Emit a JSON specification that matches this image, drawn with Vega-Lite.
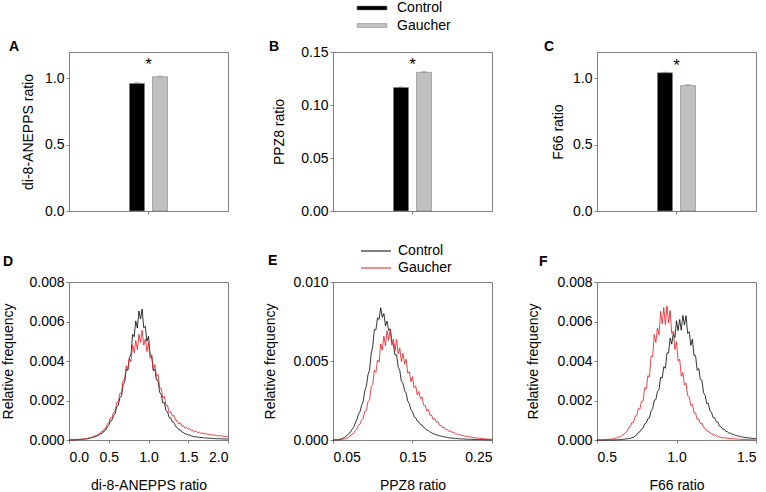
{
"$schema":"https://vega.github.io/schema/vega-lite/v6.json",
"padding":0,
"background":"white",
"datasets":{
"dD":[
{"g":"Control","x":0.00,"y":0},{"g":"Control","x":0.02,"y":0.00001},{"g":"Control","x":0.04,"y":0},{"g":"Control","x":0.06,"y":0.00002},{"g":"Control","x":0.08,"y":0.00001},{"g":"Control","x":0.10,"y":0.00002},{"g":"Control","x":0.12,"y":0.00003},{"g":"Control","x":0.14,"y":0.00002},{"g":"Control","x":0.16,"y":0.00004},{"g":"Control","x":0.18,"y":0.00003},
{"g":"Control","x":0.20,"y":0.00006},{"g":"Control","x":0.22,"y":0.00005},{"g":"Control","x":0.24,"y":0.00008},{"g":"Control","x":0.26,"y":0.00008},{"g":"Control","x":0.28,"y":0.00012},{"g":"Control","x":0.30,"y":0.00012},{"g":"Control","x":0.32,"y":0.00017},{"g":"Control","x":0.34,"y":0.00016},{"g":"Control","x":0.36,"y":0.00024},{"g":"Control","x":0.38,"y":0.00024},
{"g":"Control","x":0.40,"y":0.00033},{"g":"Control","x":0.42,"y":0.00034},{"g":"Control","x":0.44,"y":0.00045},{"g":"Control","x":0.46,"y":0.00049},{"g":"Control","x":0.48,"y":0.00066},{"g":"Control","x":0.50,"y":0.00073},{"g":"Control","x":0.52,"y":0.00096},{"g":"Control","x":0.54,"y":0.00100},{"g":"Control","x":0.56,"y":0.00123},{"g":"Control","x":0.58,"y":0.00132},
{"g":"Control","x":0.60,"y":0.00170},{"g":"Control","x":0.62,"y":0.00175},{"g":"Control","x":0.64,"y":0.00216},{"g":"Control","x":0.66,"y":0.00221},{"g":"Control","x":0.68,"y":0.00279},{"g":"Control","x":0.70,"y":0.00292},{"g":"Control","x":0.72,"y":0.00359},{"g":"Control","x":0.74,"y":0.00353},{"g":"Control","x":0.76,"y":0.00418},{"g":"Control","x":0.78,"y":0.00432},
{"g":"Control","x":0.80,"y":0.00535},{"g":"Control","x":0.82,"y":0.00523},{"g":"Control","x":0.84,"y":0.00603},{"g":"Control","x":0.86,"y":0.00567},{"g":"Control","x":0.88,"y":0.00653},{"g":"Control","x":0.90,"y":0.00613},{"g":"Control","x":0.92,"y":0.00663},{"g":"Control","x":0.94,"y":0.00568},{"g":"Control","x":0.96,"y":0.00576},{"g":"Control","x":0.98,"y":0.00500},
{"g":"Control","x":1.00,"y":0.00525},{"g":"Control","x":1.02,"y":0.00432},{"g":"Control","x":1.04,"y":0.00427},{"g":"Control","x":1.06,"y":0.00351},{"g":"Control","x":1.08,"y":0.00359},{"g":"Control","x":1.10,"y":0.00304},{"g":"Control","x":1.12,"y":0.00302},{"g":"Control","x":1.14,"y":0.00242},{"g":"Control","x":1.16,"y":0.00230},{"g":"Control","x":1.18,"y":0.00188},
{"g":"Control","x":1.20,"y":0.00189},{"g":"Control","x":1.22,"y":0.00149},{"g":"Control","x":1.24,"y":0.00143},{"g":"Control","x":1.26,"y":0.00113},{"g":"Control","x":1.28,"y":0.00112},{"g":"Control","x":1.30,"y":0.00091},{"g":"Control","x":1.32,"y":0.00089},{"g":"Control","x":1.34,"y":0.00069},{"g":"Control","x":1.36,"y":0.00064},{"g":"Control","x":1.38,"y":0.00052},
{"g":"Control","x":1.40,"y":0.00051},{"g":"Control","x":1.42,"y":0.00040},{"g":"Control","x":1.44,"y":0.00038},{"g":"Control","x":1.46,"y":0.00031},{"g":"Control","x":1.48,"y":0.00030},{"g":"Control","x":1.50,"y":0.00025},{"g":"Control","x":1.52,"y":0.00026},{"g":"Control","x":1.54,"y":0.00020},{"g":"Control","x":1.56,"y":0.00019},{"g":"Control","x":1.58,"y":0.00016},
{"g":"Control","x":1.60,"y":0.00017},{"g":"Control","x":1.62,"y":0.00014},{"g":"Control","x":1.64,"y":0.00014},{"g":"Control","x":1.66,"y":0.00012},{"g":"Control","x":1.68,"y":0.00013},{"g":"Control","x":1.70,"y":0.00010},{"g":"Control","x":1.72,"y":0.00011},{"g":"Control","x":1.74,"y":0.00009},{"g":"Control","x":1.76,"y":0.00009},{"g":"Control","x":1.78,"y":0.00008},
{"g":"Control","x":1.80,"y":0.00009},{"g":"Control","x":1.82,"y":0.00007},{"g":"Control","x":1.84,"y":0.00007},{"g":"Control","x":1.86,"y":0.00006},{"g":"Control","x":1.88,"y":0.00007},{"g":"Control","x":1.90,"y":0.00006},{"g":"Control","x":1.92,"y":0.00006},{"g":"Control","x":1.94,"y":0.00005},{"g":"Control","x":1.96,"y":0.00005},{"g":"Control","x":1.98,"y":0.00005},{"g":"Control","x":2.00,"y":0.00004},
{"g":"Gaucher","x":0.00,"y":0},{"g":"Gaucher","x":0.02,"y":0.00001},{"g":"Gaucher","x":0.04,"y":0.00001},{"g":"Gaucher","x":0.06,"y":0.00001},{"g":"Gaucher","x":0.08,"y":0.00002},{"g":"Gaucher","x":0.10,"y":0.00002},{"g":"Gaucher","x":0.12,"y":0.00003},{"g":"Gaucher","x":0.14,"y":0.00003},{"g":"Gaucher","x":0.16,"y":0.00005},{"g":"Gaucher","x":0.18,"y":0.00004},
{"g":"Gaucher","x":0.20,"y":0.00007},{"g":"Gaucher","x":0.22,"y":0.00006},{"g":"Gaucher","x":0.24,"y":0.00010},{"g":"Gaucher","x":0.26,"y":0.00010},{"g":"Gaucher","x":0.28,"y":0.00014},{"g":"Gaucher","x":0.30,"y":0.00015},{"g":"Gaucher","x":0.32,"y":0.00021},{"g":"Gaucher","x":0.34,"y":0.00021},{"g":"Gaucher","x":0.36,"y":0.00028},{"g":"Gaucher","x":0.38,"y":0.00030},
{"g":"Gaucher","x":0.40,"y":0.00041},{"g":"Gaucher","x":0.42,"y":0.00042},{"g":"Gaucher","x":0.44,"y":0.00055},{"g":"Gaucher","x":0.46,"y":0.00058},{"g":"Gaucher","x":0.48,"y":0.00080},{"g":"Gaucher","x":0.50,"y":0.00085},{"g":"Gaucher","x":0.52,"y":0.00111},{"g":"Gaucher","x":0.54,"y":0.00112},{"g":"Gaucher","x":0.56,"y":0.00140},{"g":"Gaucher","x":0.58,"y":0.00145},
{"g":"Gaucher","x":0.60,"y":0.00190},{"g":"Gaucher","x":0.62,"y":0.00190},{"g":"Gaucher","x":0.64,"y":0.00237},{"g":"Gaucher","x":0.66,"y":0.00236},{"g":"Gaucher","x":0.68,"y":0.00302},{"g":"Gaucher","x":0.70,"y":0.00306},{"g":"Gaucher","x":0.72,"y":0.00376},{"g":"Gaucher","x":0.74,"y":0.00356},{"g":"Gaucher","x":0.76,"y":0.00414},{"g":"Gaucher","x":0.78,"y":0.00398},
{"g":"Gaucher","x":0.80,"y":0.00482},{"g":"Gaucher","x":0.82,"y":0.00442},{"g":"Gaucher","x":0.84,"y":0.00504},{"g":"Gaucher","x":0.86,"y":0.00457},{"g":"Gaucher","x":0.88,"y":0.00535},{"g":"Gaucher","x":0.90,"y":0.00494},{"g":"Gaucher","x":0.92,"y":0.00556},{"g":"Gaucher","x":0.94,"y":0.00480},{"g":"Gaucher","x":0.96,"y":0.00511},{"g":"Gaucher","x":0.98,"y":0.00448},
{"g":"Gaucher","x":1.00,"y":0.00494},{"g":"Gaucher","x":1.02,"y":0.00414},{"g":"Gaucher","x":1.04,"y":0.00432},{"g":"Gaucher","x":1.06,"y":0.00357},{"g":"Gaucher","x":1.08,"y":0.00382},{"g":"Gaucher","x":1.10,"y":0.00322},{"g":"Gaucher","x":1.12,"y":0.00332},{"g":"Gaucher","x":1.14,"y":0.00264},{"g":"Gaucher","x":1.16,"y":0.00261},{"g":"Gaucher","x":1.18,"y":0.00213},
{"g":"Gaucher","x":1.20,"y":0.00221},{"g":"Gaucher","x":1.22,"y":0.00176},{"g":"Gaucher","x":1.24,"y":0.00175},{"g":"Gaucher","x":1.26,"y":0.00139},{"g":"Gaucher","x":1.28,"y":0.00144},{"g":"Gaucher","x":1.30,"y":0.00121},{"g":"Gaucher","x":1.32,"y":0.00125},{"g":"Gaucher","x":1.34,"y":0.00100},{"g":"Gaucher","x":1.36,"y":0.00099},{"g":"Gaucher","x":1.38,"y":0.00082},
{"g":"Gaucher","x":1.40,"y":0.00087},{"g":"Gaucher","x":1.42,"y":0.00070},{"g":"Gaucher","x":1.44,"y":0.00072},{"g":"Gaucher","x":1.46,"y":0.00059},{"g":"Gaucher","x":1.48,"y":0.00064},{"g":"Gaucher","x":1.50,"y":0.00054},{"g":"Gaucher","x":1.52,"y":0.00058},{"g":"Gaucher","x":1.54,"y":0.00047},{"g":"Gaucher","x":1.56,"y":0.00048},{"g":"Gaucher","x":1.58,"y":0.00041},
{"g":"Gaucher","x":1.60,"y":0.00045},{"g":"Gaucher","x":1.62,"y":0.00038},{"g":"Gaucher","x":1.64,"y":0.00040},{"g":"Gaucher","x":1.66,"y":0.00033},{"g":"Gaucher","x":1.68,"y":0.00036},{"g":"Gaucher","x":1.70,"y":0.00031},{"g":"Gaucher","x":1.72,"y":0.00034},{"g":"Gaucher","x":1.74,"y":0.00028},{"g":"Gaucher","x":1.76,"y":0.00029},{"g":"Gaucher","x":1.78,"y":0.00025},
{"g":"Gaucher","x":1.80,"y":0.00028},{"g":"Gaucher","x":1.82,"y":0.00024},{"g":"Gaucher","x":1.84,"y":0.00025},{"g":"Gaucher","x":1.86,"y":0.00021},{"g":"Gaucher","x":1.88,"y":0.00023},{"g":"Gaucher","x":1.90,"y":0.00020},{"g":"Gaucher","x":1.92,"y":0.00022},{"g":"Gaucher","x":1.94,"y":0.00018},{"g":"Gaucher","x":1.96,"y":0.00019},{"g":"Gaucher","x":1.98,"y":0.00016},{"g":"Gaucher","x":2.00,"y":0.00017}
],
"dE":[
{"g":"Control","x":0.050,"y":0},{"g":"Control","x":0.052,"y":0.00001},{"g":"Control","x":0.054,"y":0.00001},{"g":"Control","x":0.056,"y":0.00002},{"g":"Control","x":0.058,"y":0.00004},{"g":"Control","x":0.060,"y":0.00006},{"g":"Control","x":0.062,"y":0.00011},{"g":"Control","x":0.064,"y":0.00015},{"g":"Control","x":0.066,"y":0.00023},{"g":"Control","x":0.068,"y":0.00029},
{"g":"Control","x":0.070,"y":0.00042},{"g":"Control","x":0.072,"y":0.00050},{"g":"Control","x":0.074,"y":0.00067},{"g":"Control","x":0.076,"y":0.00080},{"g":"Control","x":0.078,"y":0.00108},{"g":"Control","x":0.080,"y":0.00127},{"g":"Control","x":0.082,"y":0.00163},{"g":"Control","x":0.084,"y":0.00179},{"g":"Control","x":0.086,"y":0.00220},{"g":"Control","x":0.088,"y":0.00245},
{"g":"Control","x":0.090,"y":0.00312},{"g":"Control","x":0.092,"y":0.00340},{"g":"Control","x":0.094,"y":0.00413},{"g":"Control","x":0.096,"y":0.00442},{"g":"Control","x":0.098,"y":0.00546},{"g":"Control","x":0.100,"y":0.00594},{"g":"Control","x":0.102,"y":0.00698},{"g":"Control","x":0.104,"y":0.00698},{"g":"Control","x":0.106,"y":0.00773},{"g":"Control","x":0.108,"y":0.00763},
{"g":"Control","x":0.110,"y":0.00837},{"g":"Control","x":0.112,"y":0.00776},{"g":"Control","x":0.114,"y":0.00801},{"g":"Control","x":0.116,"y":0.00722},{"g":"Control","x":0.118,"y":0.00752},{"g":"Control","x":0.120,"y":0.00693},{"g":"Control","x":0.122,"y":0.00704},{"g":"Control","x":0.124,"y":0.00621},{"g":"Control","x":0.126,"y":0.00606},{"g":"Control","x":0.128,"y":0.00538},
{"g":"Control","x":0.130,"y":0.00539},{"g":"Control","x":0.132,"y":0.00461},{"g":"Control","x":0.134,"y":0.00441},{"g":"Control","x":0.136,"y":0.00371},{"g":"Control","x":0.138,"y":0.00361},{"g":"Control","x":0.140,"y":0.00312},{"g":"Control","x":0.142,"y":0.00297},{"g":"Control","x":0.144,"y":0.00247},{"g":"Control","x":0.146,"y":0.00230},{"g":"Control","x":0.148,"y":0.00192},
{"g":"Control","x":0.150,"y":0.00179},{"g":"Control","x":0.152,"y":0.00147},{"g":"Control","x":0.154,"y":0.00141},{"g":"Control","x":0.156,"y":0.00119},{"g":"Control","x":0.158,"y":0.00115},{"g":"Control","x":0.160,"y":0.00099},{"g":"Control","x":0.162,"y":0.00095},{"g":"Control","x":0.164,"y":0.00079},{"g":"Control","x":0.166,"y":0.00074},{"g":"Control","x":0.168,"y":0.00062},
{"g":"Control","x":0.170,"y":0.00060},{"g":"Control","x":0.172,"y":0.00050},{"g":"Control","x":0.174,"y":0.00047},{"g":"Control","x":0.176,"y":0.00039},{"g":"Control","x":0.178,"y":0.00038},{"g":"Control","x":0.180,"y":0.00032},{"g":"Control","x":0.182,"y":0.00031},{"g":"Control","x":0.184,"y":0.00026},{"g":"Control","x":0.186,"y":0.00025},{"g":"Control","x":0.188,"y":0.00021},
{"g":"Control","x":0.190,"y":0.00021},{"g":"Control","x":0.192,"y":0.00017},{"g":"Control","x":0.194,"y":0.00017},{"g":"Control","x":0.196,"y":0.00013},{"g":"Control","x":0.198,"y":0.00014},{"g":"Control","x":0.200,"y":0.00011},{"g":"Control","x":0.202,"y":0.00012},{"g":"Control","x":0.204,"y":0.00009},{"g":"Control","x":0.206,"y":0.00010},{"g":"Control","x":0.208,"y":0.00007},
{"g":"Control","x":0.210,"y":0.00008},{"g":"Control","x":0.212,"y":0.00006},{"g":"Control","x":0.214,"y":0.00007},{"g":"Control","x":0.216,"y":0.00005},{"g":"Control","x":0.218,"y":0.00006},{"g":"Control","x":0.220,"y":0.00004},{"g":"Control","x":0.222,"y":0.00005},{"g":"Control","x":0.224,"y":0.00004},{"g":"Control","x":0.226,"y":0.00004},{"g":"Control","x":0.228,"y":0.00003},
{"g":"Control","x":0.230,"y":0.00004},{"g":"Control","x":0.232,"y":0.00002},{"g":"Control","x":0.234,"y":0.00003},{"g":"Control","x":0.236,"y":0.00002},{"g":"Control","x":0.238,"y":0.00003},{"g":"Control","x":0.240,"y":0.00002},{"g":"Control","x":0.242,"y":0.00002},{"g":"Control","x":0.244,"y":0.00001},{"g":"Control","x":0.246,"y":0.00002},{"g":"Control","x":0.248,"y":0.00001},{"g":"Control","x":0.250,"y":0.00001},
{"g":"Gaucher","x":0.050,"y":0},{"g":"Gaucher","x":0.052,"y":0.00001},{"g":"Gaucher","x":0.054,"y":0.00001},{"g":"Gaucher","x":0.056,"y":0.00001},{"g":"Gaucher","x":0.058,"y":0.00002},{"g":"Gaucher","x":0.060,"y":0.00003},{"g":"Gaucher","x":0.062,"y":0.00005},{"g":"Gaucher","x":0.064,"y":0.00006},{"g":"Gaucher","x":0.066,"y":0.00010},{"g":"Gaucher","x":0.068,"y":0.00012},
{"g":"Gaucher","x":0.070,"y":0.00020},{"g":"Gaucher","x":0.072,"y":0.00025},{"g":"Gaucher","x":0.074,"y":0.00037},{"g":"Gaucher","x":0.076,"y":0.00042},{"g":"Gaucher","x":0.078,"y":0.00060},{"g":"Gaucher","x":0.080,"y":0.00068},{"g":"Gaucher","x":0.082,"y":0.00094},{"g":"Gaucher","x":0.084,"y":0.00099},{"g":"Gaucher","x":0.086,"y":0.00128},{"g":"Gaucher","x":0.088,"y":0.00135},
{"g":"Gaucher","x":0.090,"y":0.00182},{"g":"Gaucher","x":0.092,"y":0.00188},{"g":"Gaucher","x":0.094,"y":0.00244},{"g":"Gaucher","x":0.096,"y":0.00253},{"g":"Gaucher","x":0.098,"y":0.00337},{"g":"Gaucher","x":0.100,"y":0.00351},{"g":"Gaucher","x":0.102,"y":0.00441},{"g":"Gaucher","x":0.104,"y":0.00428},{"g":"Gaucher","x":0.106,"y":0.00507},{"g":"Gaucher","x":0.108,"y":0.00493},
{"g":"Gaucher","x":0.110,"y":0.00608},{"g":"Gaucher","x":0.112,"y":0.00569},{"g":"Gaucher","x":0.114,"y":0.00657},{"g":"Gaucher","x":0.116,"y":0.00596},{"g":"Gaucher","x":0.118,"y":0.00691},{"g":"Gaucher","x":0.120,"y":0.00631},{"g":"Gaucher","x":0.122,"y":0.00700},{"g":"Gaucher","x":0.124,"y":0.00600},{"g":"Gaucher","x":0.126,"y":0.00639},{"g":"Gaucher","x":0.128,"y":0.00565},
{"g":"Gaucher","x":0.130,"y":0.00637},{"g":"Gaucher","x":0.132,"y":0.00545},{"g":"Gaucher","x":0.134,"y":0.00584},{"g":"Gaucher","x":0.136,"y":0.00497},{"g":"Gaucher","x":0.138,"y":0.00549},{"g":"Gaucher","x":0.140,"y":0.00480},{"g":"Gaucher","x":0.142,"y":0.00512},{"g":"Gaucher","x":0.144,"y":0.00423},{"g":"Gaucher","x":0.146,"y":0.00433},{"g":"Gaucher","x":0.148,"y":0.00369},
{"g":"Gaucher","x":0.150,"y":0.00401},{"g":"Gaucher","x":0.152,"y":0.00331},{"g":"Gaucher","x":0.154,"y":0.00343},{"g":"Gaucher","x":0.156,"y":0.00285},{"g":"Gaucher","x":0.158,"y":0.00307},{"g":"Gaucher","x":0.160,"y":0.00262},{"g":"Gaucher","x":0.162,"y":0.00273},{"g":"Gaucher","x":0.164,"y":0.00220},{"g":"Gaucher","x":0.166,"y":0.00220},{"g":"Gaucher","x":0.168,"y":0.00183},
{"g":"Gaucher","x":0.170,"y":0.00194},{"g":"Gaucher","x":0.172,"y":0.00156},{"g":"Gaucher","x":0.174,"y":0.00158},{"g":"Gaucher","x":0.176,"y":0.00129},{"g":"Gaucher","x":0.178,"y":0.00136},{"g":"Gaucher","x":0.180,"y":0.00113},{"g":"Gaucher","x":0.182,"y":0.00117},{"g":"Gaucher","x":0.184,"y":0.00093},{"g":"Gaucher","x":0.186,"y":0.00093},{"g":"Gaucher","x":0.188,"y":0.00076},
{"g":"Gaucher","x":0.190,"y":0.00080},{"g":"Gaucher","x":0.192,"y":0.00065},{"g":"Gaucher","x":0.194,"y":0.00066},{"g":"Gaucher","x":0.196,"y":0.00053},{"g":"Gaucher","x":0.198,"y":0.00056},{"g":"Gaucher","x":0.200,"y":0.00048},{"g":"Gaucher","x":0.202,"y":0.00049},{"g":"Gaucher","x":0.204,"y":0.00039},{"g":"Gaucher","x":0.206,"y":0.00039},{"g":"Gaucher","x":0.208,"y":0.00033},
{"g":"Gaucher","x":0.210,"y":0.00034},{"g":"Gaucher","x":0.212,"y":0.00027},{"g":"Gaucher","x":0.214,"y":0.00028},{"g":"Gaucher","x":0.216,"y":0.00023},{"g":"Gaucher","x":0.218,"y":0.00024},{"g":"Gaucher","x":0.220,"y":0.00020},{"g":"Gaucher","x":0.222,"y":0.00021},{"g":"Gaucher","x":0.224,"y":0.00017},{"g":"Gaucher","x":0.226,"y":0.00016},{"g":"Gaucher","x":0.228,"y":0.00014},
{"g":"Gaucher","x":0.230,"y":0.00014},{"g":"Gaucher","x":0.232,"y":0.00011},{"g":"Gaucher","x":0.234,"y":0.00012},{"g":"Gaucher","x":0.236,"y":0.00009},{"g":"Gaucher","x":0.238,"y":0.00009},{"g":"Gaucher","x":0.240,"y":0.00007},{"g":"Gaucher","x":0.242,"y":0.00008},{"g":"Gaucher","x":0.244,"y":0.00006},{"g":"Gaucher","x":0.246,"y":0.00005},{"g":"Gaucher","x":0.248,"y":0.00005},{"g":"Gaucher","x":0.250,"y":0.00004}
],
"dF":[
{"g":"Control","x":0.50,"y":0},{"g":"Control","x":0.51,"y":0},{"g":"Control","x":0.52,"y":0},{"g":"Control","x":0.53,"y":0},{"g":"Control","x":0.54,"y":0},{"g":"Control","x":0.55,"y":0},{"g":"Control","x":0.56,"y":0},{"g":"Control","x":0.57,"y":0},{"g":"Control","x":0.58,"y":0.00001},{"g":"Control","x":0.59,"y":0},
{"g":"Control","x":0.60,"y":0},{"g":"Control","x":0.61,"y":0.00001},{"g":"Control","x":0.62,"y":0.00001},{"g":"Control","x":0.63,"y":0.00001},{"g":"Control","x":0.64,"y":0.00002},{"g":"Control","x":0.65,"y":0.00002},{"g":"Control","x":0.66,"y":0.00004},{"g":"Control","x":0.67,"y":0.00003},{"g":"Control","x":0.68,"y":0.00006},{"g":"Control","x":0.69,"y":0.00005},
{"g":"Control","x":0.70,"y":0.00008},{"g":"Control","x":0.71,"y":0.00008},{"g":"Control","x":0.72,"y":0.00012},{"g":"Control","x":0.73,"y":0.00014},{"g":"Control","x":0.74,"y":0.00021},{"g":"Control","x":0.75,"y":0.00026},{"g":"Control","x":0.76,"y":0.00038},{"g":"Control","x":0.77,"y":0.00042},{"g":"Control","x":0.78,"y":0.00055},{"g":"Control","x":0.79,"y":0.00061},
{"g":"Control","x":0.80,"y":0.00082},{"g":"Control","x":0.81,"y":0.00086},{"g":"Control","x":0.82,"y":0.00107},{"g":"Control","x":0.83,"y":0.00112},{"g":"Control","x":0.84,"y":0.00147},{"g":"Control","x":0.85,"y":0.00159},{"g":"Control","x":0.86,"y":0.00201},{"g":"Control","x":0.87,"y":0.00204},{"g":"Control","x":0.88,"y":0.00245},{"g":"Control","x":0.89,"y":0.00254},
{"g":"Control","x":0.90,"y":0.00318},{"g":"Control","x":0.91,"y":0.00314},{"g":"Control","x":0.92,"y":0.00371},{"g":"Control","x":0.93,"y":0.00363},{"g":"Control","x":0.94,"y":0.00441},{"g":"Control","x":0.95,"y":0.00441},{"g":"Control","x":0.96,"y":0.00516},{"g":"Control","x":0.97,"y":0.00485},{"g":"Control","x":0.98,"y":0.00541},{"g":"Control","x":0.99,"y":0.00519},
{"g":"Control","x":1.00,"y":0.00604},{"g":"Control","x":1.01,"y":0.00554},{"g":"Control","x":1.02,"y":0.00610},{"g":"Control","x":1.03,"y":0.00556},{"g":"Control","x":1.04,"y":0.00630},{"g":"Control","x":1.05,"y":0.00583},{"g":"Control","x":1.06,"y":0.00629},{"g":"Control","x":1.07,"y":0.00540},{"g":"Control","x":1.08,"y":0.00548},{"g":"Control","x":1.09,"y":0.00479},
{"g":"Control","x":1.10,"y":0.00511},{"g":"Control","x":1.11,"y":0.00428},{"g":"Control","x":1.12,"y":0.00427},{"g":"Control","x":1.13,"y":0.00353},{"g":"Control","x":1.14,"y":0.00362},{"g":"Control","x":1.15,"y":0.00306},{"g":"Control","x":1.16,"y":0.00302},{"g":"Control","x":1.17,"y":0.00240},{"g":"Control","x":1.18,"y":0.00226},{"g":"Control","x":1.19,"y":0.00185},
{"g":"Control","x":1.20,"y":0.00186},{"g":"Control","x":1.21,"y":0.00147},{"g":"Control","x":1.22,"y":0.00141},{"g":"Control","x":1.23,"y":0.00113},{"g":"Control","x":1.24,"y":0.00112},{"g":"Control","x":1.25,"y":0.00093},{"g":"Control","x":1.26,"y":0.00091},{"g":"Control","x":1.27,"y":0.00071},{"g":"Control","x":1.28,"y":0.00067},{"g":"Control","x":1.29,"y":0.00055},
{"g":"Control","x":1.30,"y":0.00055},{"g":"Control","x":1.31,"y":0.00044},{"g":"Control","x":1.32,"y":0.00042},{"g":"Control","x":1.33,"y":0.00034},{"g":"Control","x":1.34,"y":0.00035},{"g":"Control","x":1.35,"y":0.00029},{"g":"Control","x":1.36,"y":0.00029},{"g":"Control","x":1.37,"y":0.00023},{"g":"Control","x":1.38,"y":0.00022},{"g":"Control","x":1.39,"y":0.00019},
{"g":"Control","x":1.40,"y":0.00019},{"g":"Control","x":1.41,"y":0.00015},{"g":"Control","x":1.42,"y":0.00015},{"g":"Control","x":1.43,"y":0.00012},{"g":"Control","x":1.44,"y":0.00013},{"g":"Control","x":1.45,"y":0.00010},{"g":"Control","x":1.46,"y":0.00011},{"g":"Control","x":1.47,"y":0.00008},{"g":"Control","x":1.48,"y":0.00008},{"g":"Control","x":1.49,"y":0.00007},{"g":"Control","x":1.50,"y":0.00007},
{"g":"Gaucher","x":0.50,"y":0},{"g":"Gaucher","x":0.51,"y":0.00001},{"g":"Gaucher","x":0.52,"y":0.00001},{"g":"Gaucher","x":0.53,"y":0},{"g":"Gaucher","x":0.54,"y":0.00002},{"g":"Gaucher","x":0.55,"y":0.00002},{"g":"Gaucher","x":0.56,"y":0.00003},{"g":"Gaucher","x":0.57,"y":0.00002},{"g":"Gaucher","x":0.58,"y":0.00004},{"g":"Gaucher","x":0.59,"y":0.00004},
{"g":"Gaucher","x":0.60,"y":0.00007},{"g":"Gaucher","x":0.61,"y":0.00007},{"g":"Gaucher","x":0.62,"y":0.00011},{"g":"Gaucher","x":0.63,"y":0.00011},{"g":"Gaucher","x":0.64,"y":0.00016},{"g":"Gaucher","x":0.65,"y":0.00017},{"g":"Gaucher","x":0.66,"y":0.00025},{"g":"Gaucher","x":0.67,"y":0.00028},{"g":"Gaucher","x":0.68,"y":0.00039},{"g":"Gaucher","x":0.69,"y":0.00044},
{"g":"Gaucher","x":0.70,"y":0.00065},{"g":"Gaucher","x":0.71,"y":0.00068},{"g":"Gaucher","x":0.72,"y":0.00089},{"g":"Gaucher","x":0.73,"y":0.00089},{"g":"Gaucher","x":0.74,"y":0.00120},{"g":"Gaucher","x":0.75,"y":0.00123},{"g":"Gaucher","x":0.76,"y":0.00160},{"g":"Gaucher","x":0.77,"y":0.00157},{"g":"Gaucher","x":0.78,"y":0.00196},{"g":"Gaucher","x":0.79,"y":0.00198},
{"g":"Gaucher","x":0.80,"y":0.00265},{"g":"Gaucher","x":0.81,"y":0.00259},{"g":"Gaucher","x":0.82,"y":0.00326},{"g":"Gaucher","x":0.83,"y":0.00319},{"g":"Gaucher","x":0.84,"y":0.00423},{"g":"Gaucher","x":0.85,"y":0.00422},{"g":"Gaucher","x":0.86,"y":0.00534},{"g":"Gaucher","x":0.87,"y":0.00494},{"g":"Gaucher","x":0.88,"y":0.00567},{"g":"Gaucher","x":0.89,"y":0.00532},
{"g":"Gaucher","x":0.90,"y":0.00653},{"g":"Gaucher","x":0.91,"y":0.00588},{"g":"Gaucher","x":0.92,"y":0.00670},{"g":"Gaucher","x":0.93,"y":0.00584},{"g":"Gaucher","x":0.94,"y":0.00679},{"g":"Gaucher","x":0.95,"y":0.00593},{"g":"Gaucher","x":0.96,"y":0.00655},{"g":"Gaucher","x":0.97,"y":0.00540},{"g":"Gaucher","x":0.98,"y":0.00551},{"g":"Gaucher","x":0.99,"y":0.00458},
{"g":"Gaucher","x":1.00,"y":0.00497},{"g":"Gaucher","x":1.01,"y":0.00400},{"g":"Gaucher","x":1.02,"y":0.00410},{"g":"Gaucher","x":1.03,"y":0.00323},{"g":"Gaucher","x":1.04,"y":0.00342},{"g":"Gaucher","x":1.05,"y":0.00278},{"g":"Gaucher","x":1.06,"y":0.00288},{"g":"Gaucher","x":1.07,"y":0.00225},{"g":"Gaucher","x":1.08,"y":0.00219},{"g":"Gaucher","x":1.09,"y":0.00175},
{"g":"Gaucher","x":1.10,"y":0.00181},{"g":"Gaucher","x":1.11,"y":0.00139},{"g":"Gaucher","x":1.12,"y":0.00137},{"g":"Gaucher","x":1.13,"y":0.00104},{"g":"Gaucher","x":1.14,"y":0.00107},{"g":"Gaucher","x":1.15,"y":0.00084},{"g":"Gaucher","x":1.16,"y":0.00085},{"g":"Gaucher","x":1.17,"y":0.00064},{"g":"Gaucher","x":1.18,"y":0.00060},{"g":"Gaucher","x":1.19,"y":0.00046},
{"g":"Gaucher","x":1.20,"y":0.00046},{"g":"Gaucher","x":1.21,"y":0.00035},{"g":"Gaucher","x":1.22,"y":0.00034},{"g":"Gaucher","x":1.23,"y":0.00025},{"g":"Gaucher","x":1.24,"y":0.00026},{"g":"Gaucher","x":1.25,"y":0.00020},{"g":"Gaucher","x":1.26,"y":0.00020},{"g":"Gaucher","x":1.27,"y":0.00015},{"g":"Gaucher","x":1.28,"y":0.00014},{"g":"Gaucher","x":1.29,"y":0.00011},
{"g":"Gaucher","x":1.30,"y":0.00012},{"g":"Gaucher","x":1.31,"y":0.00009},{"g":"Gaucher","x":1.32,"y":0.00009},{"g":"Gaucher","x":1.33,"y":0.00007},{"g":"Gaucher","x":1.34,"y":0.00007},{"g":"Gaucher","x":1.35,"y":0.00006},{"g":"Gaucher","x":1.36,"y":0.00007},{"g":"Gaucher","x":1.37,"y":0.00005},{"g":"Gaucher","x":1.38,"y":0.00005},{"g":"Gaucher","x":1.39,"y":0.00004},
{"g":"Gaucher","x":1.40,"y":0.00004},{"g":"Gaucher","x":1.41,"y":0.00003},{"g":"Gaucher","x":1.42,"y":0.00003},{"g":"Gaucher","x":1.43,"y":0.00002},{"g":"Gaucher","x":1.44,"y":0.00003},{"g":"Gaucher","x":1.45,"y":0.00002},{"g":"Gaucher","x":1.46,"y":0.00002},{"g":"Gaucher","x":1.47,"y":0.00001},{"g":"Gaucher","x":1.48,"y":0.00001},{"g":"Gaucher","x":1.49,"y":0.00001},{"g":"Gaucher","x":1.50,"y":0.00001}
]
},
"columns":3,
"spacing":{"row":71,"column":105},
"bounds":"flush",
"resolve":{"scale":{"color":"independent"},"legend":{"color":"independent"}},
"concat":[
{
"width":159,"height":159,
"title":{"text":"A","dx":-60,"offset":-2},
"data":{"values":[{"k":"a","g":"Control","v":0.963,"hi":0.967},{"k":"a","g":"Gaucher","v":1.013,"hi":1.017}]},
"layer":[
{"mark":{"type":"bar","stroke":"#7f7f7f","strokeWidth":0.6},
"encoding":{
"x":{"field":"k","type":"nominal","scale":{"paddingOuter":1,"paddingInner":0},"axis":{"labels":false,"title":null}},
"xOffset":{"field":"g","type":"nominal","scale":{"paddingInner":0.348,"paddingOuter":0.326}},
"y":{"field":"v","type":"quantitative","scale":{"domain":[0,1.2],"nice":false},"axis":{"values":[0,0.5,1],"format":".1f","title":"di-8-ANEPPS ratio","titleX":-37}},
"color":{"field":"g","type":"nominal","scale":{"domain":["Control","Gaucher"],"range":["#000000","#c0c0c0"]},"legend":null}}},
{"mark":{"type":"tick","color":"#7f7f7f","size":5,"thickness":1},
"encoding":{"x":{"field":"k","type":"nominal"},"xOffset":{"field":"g","type":"nominal"},"y":{"field":"hi","type":"quantitative"}}},
{"data":{"values":[{"k":"a","v":1.065}]},
"mark":{"type":"text","text":"*","fontSize":17,"baseline":"alphabetic","color":"#000"},
"encoding":{"x":{"field":"k","type":"nominal"},"y":{"field":"v","type":"quantitative"}}}
]
},
{
"width":159,"height":159,
"title":{"text":"B","dx":-64,"offset":1,"dy":54},
"data":{"values":[{"k":"a","g":"Control","v":0.1165,"hi":0.1170},{"k":"a","g":"Gaucher","v":0.1308,"hi":0.1313}]},
"layer":[
{"mark":{"type":"bar","stroke":"#7f7f7f","strokeWidth":0.6},
"encoding":{
"x":{"field":"k","type":"nominal","scale":{"paddingOuter":1,"paddingInner":0},"axis":{"labels":false,"title":null}},
"xOffset":{"field":"g","type":"nominal","scale":{"paddingInner":0.348,"paddingOuter":0.326}},
"y":{"field":"v","type":"quantitative","scale":{"domain":[0,0.15],"nice":false},"axis":{"values":[0,0.05,0.1,0.15],"format":".2f","title":"PPZ8 ratio","titleX":-50}},
"color":{"field":"g","type":"nominal","scale":{"domain":["Control","Gaucher"],"range":["#000000","#c0c0c0"]},
"legend":{"orient":"none","legendX":32,"legendY":-51,"title":null,"direction":"vertical","symbolType":"M-3,-0.4H3V0.4H-3Z","symbolSize":100,"symbolStrokeColor":"#7f7f7f","symbolStrokeWidth":0.5,"labelFontSize":14,"labelOffset":18,"rowPadding":3.5,"padding":0,"labelColor":"#000"}}}},
{"mark":{"type":"tick","color":"#7f7f7f","size":5,"thickness":1},
"encoding":{"x":{"field":"k","type":"nominal"},"xOffset":{"field":"g","type":"nominal"},"y":{"field":"hi","type":"quantitative"}}},
{"data":{"values":[{"k":"a","v":0.1327}]},
"mark":{"type":"text","text":"*","fontSize":17,"baseline":"alphabetic","color":"#000"},
"encoding":{"x":{"field":"k","type":"nominal"},"y":{"field":"v","type":"quantitative"}}}
]
},
{
"width":159,"height":159,
"title":{"text":"C","dx":-53,"offset":-2},
"data":{"values":[{"k":"a","g":"Control","v":1.043,"hi":1.047},{"k":"a","g":"Gaucher","v":0.948,"hi":0.952}]},
"layer":[
{"mark":{"type":"bar","stroke":"#7f7f7f","strokeWidth":0.6},
"encoding":{
"x":{"field":"k","type":"nominal","scale":{"paddingOuter":1,"paddingInner":0},"axis":{"labels":false,"title":null}},
"xOffset":{"field":"g","type":"nominal","scale":{"paddingInner":0.348,"paddingOuter":0.326}},
"y":{"field":"v","type":"quantitative","scale":{"domain":[0,1.2],"nice":false},"axis":{"values":[0,0.5,1],"format":".1f","title":"F66 ratio","titleX":-35}},
"color":{"field":"g","type":"nominal","scale":{"domain":["Control","Gaucher"],"range":["#000000","#c0c0c0"]},"legend":null}}},
{"mark":{"type":"tick","color":"#7f7f7f","size":5,"thickness":1},
"encoding":{"x":{"field":"k","type":"nominal"},"xOffset":{"field":"g","type":"nominal"},"y":{"field":"hi","type":"quantitative"}}},
{"data":{"values":[{"k":"a","v":1.056}]},
"mark":{"type":"text","text":"*","fontSize":17,"baseline":"alphabetic","color":"#000"},
"encoding":{"x":{"field":"k","type":"nominal"},"y":{"field":"v","type":"quantitative"}}}
]
},
{
"width":159,"height":158,
"title":{"text":"D","dx":-66,"offset":6},
"data":{"name":"dD"},
"mark":{"type":"line","strokeWidth":0.8},
"encoding":{
"x":{"field":"x","type":"quantitative","scale":{"domain":[0,2],"nice":false},"axis":{"values":[0,0.5,1,1.5,2],"format":".1f","title":"di-8-ANEPPS ratio"}},
"y":{"field":"y","type":"quantitative","scale":{"domain":[0,0.008],"nice":false},"axis":{"values":[0,0.002,0.004,0.006,0.008],"format":".3f","title":"Relative frequency","titleX":-57}},
"color":{"field":"g","type":"nominal","scale":{"domain":["Control","Gaucher"],"range":["#000000","#e5161d"]},"legend":null}}
},
{
"width":159,"height":158,
"title":{"text":"E","dx":-65,"offset":15,"dy":39},
"data":{"name":"dE"},
"mark":{"type":"line","strokeWidth":0.8},
"encoding":{
"x":{"field":"x","type":"quantitative","scale":{"domain":[0.05,0.25],"nice":false},"axis":{"values":[0.05,0.15,0.25],"format":".2f","title":"PPZ8 ratio"}},
"y":{"field":"y","type":"quantitative","scale":{"domain":[0,0.01],"nice":false},"axis":{"values":[0,0.005,0.01],"format":".3f","title":"Relative frequency","titleX":-59}},
"color":{"field":"g","type":"nominal","scale":{"domain":["Control","Gaucher"],"range":["#000000","#e5161d"]},
"legend":{"orient":"none","legendX":36,"legendY":-38,"title":null,"direction":"vertical","symbolType":"M-3,0H3","symbolSize":100,"symbolStrokeWidth":1,"labelFontSize":14,"labelOffset":15,"rowPadding":3,"padding":0,"labelColor":"#000"}}}
},
{
"width":159,"height":158,
"title":{"text":"F","dx":-58,"offset":6},
"data":{"name":"dF"},
"mark":{"type":"line","strokeWidth":0.8},
"encoding":{
"x":{"field":"x","type":"quantitative","scale":{"domain":[0.5,1.5],"nice":false},"axis":{"values":[0.5,1,1.5],"format":".1f","title":"F66 ratio"}},
"y":{"field":"y","type":"quantitative","scale":{"domain":[0,0.008],"nice":false},"axis":{"values":[0,0.002,0.004,0.006,0.008],"format":".3f","title":"Relative frequency","titleX":-60}},
"color":{"field":"g","type":"nominal","scale":{"domain":["Control","Gaucher"],"range":["#000000","#e5161d"]},"legend":null}}
}
],
"config":{
"font":"Liberation Sans",
"view":{"stroke":"#808080","strokeWidth":1},
"axis":{"domainColor":"#808080","tickColor":"#808080","tickSize":3,"labelFontSize":14,"titleFontSize":14,"titleFontWeight":"normal","labelColor":"#000","titleColor":"#000","grid":false,"labelFont":"Liberation Sans","titleFont":"Liberation Sans"},
"axisY":{"titleBaseline":"alphabetic","labelPadding":2},
"axisX":{"labelBaseline":"alphabetic","labelPadding":18,"titleBaseline":"alphabetic","titleY":49},
"title":{"fontSize":14,"fontWeight":"bold","anchor":"start","frame":"group","baseline":"alphabetic","color":"#000","font":"Liberation Sans"},
"legend":{"labelFont":"Liberation Sans"}
}
}
